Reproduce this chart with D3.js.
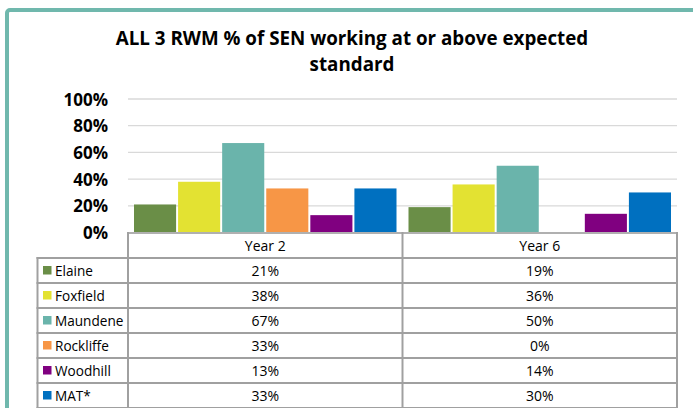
<!DOCTYPE html>
<html>
<head>
<meta charset="utf-8">
<script src="https://cdn.jsdelivr.net/npm/d3@7"></script>
<style>
  html, body { margin: 0; padding: 0; background: #fff; }
  svg text { font-family: "Open Sans", "Noto Sans", sans-serif; fill: #000; }
</style>
</head>
<body>
<svg width="693" height="408"></svg>
<script>
var categories = ['Year 2', 'Year 6'];
var schools = ['Elaine', 'Foxfield', 'Maundene', 'Rockliffe', 'Woodhill', 'MAT*'];
var year2 = [21, 38, 67, 33, 13, 33];
var year6 = [19, 36, 50, 0, 14, 30];
var yTicks = [0, 20, 40, 60, 80, 100];
var colours = ['#6a8e47', '#e3e232', '#6ab4ab', '#f79646', '#800080', '#0070c0'];

var svg = d3.select('svg');
var plotLeft = 128, plotRight = 677,
    plotTop = 99, plotBottom = 232.5,
    rowH = 25, labelLeft = 37.5;

// frame
svg.append('rect')
    .attr('x', 7).attr('y', 10)
    .attr('width', 760).attr('height', 500)
    .attr('rx', 3)
    .attr('fill', '#fff')
    .attr('stroke', '#70b8ad')
    .attr('stroke-width', 4);

// title
var title = svg.append('text')
    .attr('text-anchor', 'middle')
    .style('font-size', '18.8px')
    .style('font-weight', 'bold');
title.append('tspan').attr('x', 352).attr('y', 45).text('ALL 3 RWM % of SEN working at or above expected');
title.append('tspan').attr('x', 352).attr('y', 71).text('standard');

var x0 = d3.scaleBand().domain(categories).range([plotLeft, plotRight]);
var x1 = d3.scaleBand().domain(schools)
    .range([6, x0.bandwidth() - 6])
    .paddingInner(0.045);
var y = d3.scaleLinear().domain([0, 100]).range([plotBottom, plotTop]);

// gridlines
svg.append('g').selectAll('line')
    .data(yTicks.slice(1))
    .join('line')
    .attr('x1', plotLeft).attr('x2', plotRight)
    .attr('y1', function(d){ return y(d); })
    .attr('y2', function(d){ return y(d); })
    .attr('stroke', '#d9d9d9')
    .attr('stroke-width', 1.3);

// y labels
var yAxis = d3.axisLeft(y).tickValues(yTicks).tickSize(0).tickPadding(0)
    .tickFormat(function(d){ return d + '%'; });
svg.append('g')
    .attr('transform', 'translate(108,0)')
    .call(yAxis)
    .call(function(g){ g.select('.domain').remove(); })
    .selectAll('text')
    .attr('dy', '0.36em')
    .style('font-size', '17px')
    .style('font-weight', 'bold')
    .style('font-family', '"Open Sans", "Noto Sans", sans-serif');

// bars
var series = [year2, year6];
var groups = svg.append('g').selectAll('g')
    .data(categories)
    .join('g')
    .attr('transform', function(d){ return 'translate(' + x0(d) + ',0)'; });
groups.selectAll('rect')
    .data(function(d, i){
        return schools.map(function(s, j){ return {school: s, value: series[i][j], colour: colours[j]}; });
    })
    .join('rect')
    .attr('x', function(d){ return x1(d.school); })
    .attr('width', x1.bandwidth())
    .attr('y', function(d){ return y(d.value); })
    .attr('height', function(d){ return plotBottom - y(d.value); })
    .attr('fill', function(d){ return d.colour; });

// data table
var table = svg.append('g');
var tableTop = 233;
var bottom = 420;
var lineCol = '#a0a0a0';
// horizontal lines
table.append('line')
    .attr('x1', plotLeft).attr('x2', plotRight)
    .attr('y1', tableTop).attr('y2', tableTop)
    .attr('stroke', '#b0b0b0').attr('stroke-width', 2);
d3.range(schools.length + 1).forEach(function(i){
    var yy = tableTop + rowH * (i + 1);
    table.append('line')
        .attr('x1', labelLeft - 1).attr('x2', plotRight + 1)
        .attr('y1', yy).attr('y2', yy)
        .attr('stroke', lineCol).attr('stroke-width', 2);
});
// vertical lines
table.append('line')
    .attr('x1', labelLeft).attr('x2', labelLeft)
    .attr('y1', tableTop + rowH - 1).attr('y2', bottom)
    .attr('stroke', lineCol).attr('stroke-width', 2);
[plotLeft, x0('Year 6'), plotRight].forEach(function(xx){
    table.append('line')
        .attr('x1', xx).attr('x2', xx)
        .attr('y1', tableTop - 1).attr('y2', bottom)
        .attr('stroke', lineCol).attr('stroke-width', 2);
});

// header
table.selectAll('text.head')
    .data(categories)
    .join('text')
    .attr('class', 'head')
    .attr('x', function(d){ return x0(d) + x0.bandwidth() / 2; })
    .attr('y', tableTop + rowH / 2 + 5)
    .attr('text-anchor', 'middle')
    .style('font-size', '14px')
    .text(function(d){ return d; });

// rows
var rows = table.selectAll('g.row')
    .data(schools)
    .join('g')
    .attr('class', 'row')
    .attr('transform', function(d, i){ return 'translate(0,' + (tableTop + rowH * (i + 1)) + ')'; });
rows.append('rect')
    .attr('x', 43).attr('y', rowH / 2 - 4.5)
    .attr('width', 8.5).attr('height', 8.5)
    .attr('fill', function(d, i){ return colours[i]; });
rows.append('text')
    .attr('x', 55).attr('y', rowH / 2 + 5)
    .style('font-size', '13.6px')
    .text(function(d){ return d; });
rows.each(function(d, i){
    var row = d3.select(this);
    categories.forEach(function(c, k){
        row.append('text')
            .attr('x', x0(c) + x0.bandwidth() / 2)
            .attr('y', rowH / 2 + 5)
            .attr('text-anchor', 'middle')
            .style('font-size', '14px')
            .text(series[k][i] + '%');
    });
});
</script>
</body>
</html>
